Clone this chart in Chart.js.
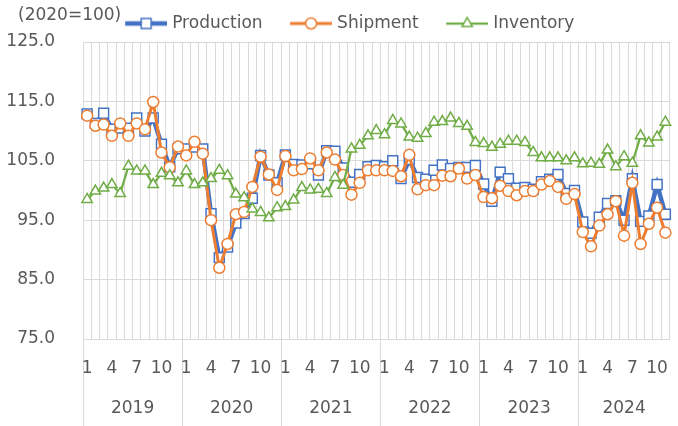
<!DOCTYPE html>
<html>
<head>
<meta charset="utf-8">
<script src="https://cdn.jsdelivr.net/npm/chart.js@4.4.1/dist/chart.umd.min.js"></script>
<style>
  html, body { margin: 0; padding: 0; background: #ffffff; }
</style>
</head>
<body>
<canvas id="chart" width="678" height="426"></canvas>
<script>
/* ==================== DATA ==================== */

const years = ['2019', '2020', '2021', '2022', '2023', '2024'];
const monthsInYear = [12, 12, 12, 12, 12, 11];
const shownMonths = [1, 4, 7, 10];

const production = [
    112.9, 111.3, 113.0, 110.3, 110.5, 110.5, 112.2, 110.0, 112.2, 107.8, 104.0, 107.0,
    107.0, 107.3, 107.0, 96.1, 88.7, 90.5, 94.5, 96.1, 98.7, 105.9, 102.6, 101.3,
    106.0, 104.4, 104.3, 104.5, 102.6, 106.7, 106.6, 103.8, 101.4, 102.7, 104.0, 104.2,
    104.0, 105.0, 102.0, 105.2, 102.2, 101.9, 103.4, 104.3, 103.7, 103.9, 103.9, 104.2,
    101.1, 98.2, 103.1, 102.0, 100.4, 100.5, 100.2, 101.5, 101.9, 102.7, 99.5, 100.0,
    94.7, 92.8, 95.5, 97.8, 98.3, 95.0, 102.0, 94.8, 95.7, 101.0, 96.0
];
const shipment = [
    112.6, 110.9, 111.1, 109.2, 111.3, 109.2, 111.3, 110.3, 114.9, 106.4, 103.9, 107.4,
    105.9, 108.2, 106.2, 95.0, 87.0, 91.0, 96.0, 96.4, 100.6, 105.7, 102.7, 100.1,
    105.8, 103.4, 103.6, 105.4, 103.4, 106.4, 105.2, 102.6, 99.3, 101.3, 103.4, 103.4,
    103.4, 103.3, 102.4, 106.0, 100.2, 100.9, 100.9, 102.5, 102.4, 103.7, 102.0, 102.6,
    98.9, 98.7, 100.8, 99.9, 99.2, 99.9, 99.9, 101.0, 101.6, 100.6, 98.6, 99.4,
    93.0, 90.6, 94.1, 96.0, 98.2, 92.4, 101.3, 91.0, 94.4, 97.1, 92.9
];
const inventory = [
    98.5, 99.9, 100.4, 101.0, 99.5, 104.1, 103.3, 103.3, 101.0, 102.9, 102.5, 101.3,
    103.3, 101.0, 101.3, 102.0, 103.4, 102.5, 99.4, 98.8, 96.9, 96.3, 95.4, 97.1,
    97.3, 98.4, 100.5, 100.1, 100.2, 99.5, 102.2, 100.9, 107.0, 107.6, 109.2, 110.1,
    109.4, 111.8, 111.2, 109.0, 108.8, 109.6, 111.5, 111.6, 112.2, 111.3, 110.8, 108.1,
    107.9, 107.3, 107.8, 108.3, 108.3, 108.1, 106.4, 105.5, 105.5, 105.5, 105.0, 105.5,
    104.5, 104.6, 104.4, 106.8, 104.0, 105.7, 104.6, 109.2, 108.0, 109.0, 111.5
];

/* ==================== CATEGORIES ==================== */

// month number for each point, and the middle index of every year
const monthLabels = [];
const yearCenters = [];
monthsInYear.forEach(n => {
    const start = monthLabels.length;
    for (let m = 1; m <= n; m++) monthLabels.push(m);
    yearCenters.push((start + monthLabels.length - 1) / 2);
});

const textColor = '#595959';
const gridColor = '#d9d9d9';
const fontFamily = "'DejaVu Sans', sans-serif";

Chart.defaults.font.family = fontFamily;
Chart.defaults.font.size = 17;
Chart.defaults.color = textColor;

// Legend sample: short line with the marker in its middle (Excel style)
function legendSample(color, lineWidth, style, radius) {
    const w = 67, h = 18;
    const c = document.createElement('canvas');
    c.width = w;
    c.height = h;
    const g = c.getContext('2d');
    const cy = h / 2, x0 = w - 42, cx = w - 21;
    g.strokeStyle = color;
    g.lineWidth = lineWidth;
    g.beginPath();
    g.moveTo(x0, cy);
    g.lineTo(w, cy);
    g.stroke();
    g.lineWidth = 1.5;
    g.fillStyle = '#ffffff';
    g.beginPath();
    if (style === 'rect') {
        const s = radius * Math.SQRT1_2;
        g.rect(cx - s, cy - s, 2 * s, 2 * s);
    } else if (style === 'circle') {
        g.arc(cx, cy, radius, 0, Math.PI * 2);
    } else {
        const dx = radius * Math.sin(Math.PI * 2 / 3);
        g.moveTo(cx, cy - radius);
        g.lineTo(cx + dx, cy + radius / 2);
        g.lineTo(cx - dx, cy + radius / 2);
        g.closePath();
    }
    g.fill();
    g.stroke();
    return c;
}

const series = [
    { label: 'Production', data: production, color: '#4472C4', width: 4.5, style: 'rect', radius: 7, order: 3 },
    { label: 'Shipment', data: shipment, color: '#ED7D31', width: 3, style: 'circle', radius: 5.5, order: 2 },
    { label: 'Inventory', data: inventory, color: '#70AD47', width: 2.25, style: 'triangle', radius: 6, order: 1 }
];
const samples = series.map(s => legendSample(s.color, s.width, s.style, s.radius));

// "(2020=100)" unit note in the top left corner
const unitNote = {
    id: 'unitNote',
    afterDraw(chart) {
        const ctx = chart.ctx;
        ctx.save();
        ctx.font = '17px ' + fontFamily;
        ctx.fillStyle = textColor;
        ctx.textBaseline = 'middle';
        ctx.fillText('(2020=100)', 18, 16);
        ctx.restore();
    }
};

/* ==================== CHART ==================== */

new Chart(document.getElementById('chart'), {
    type: 'line',
    data: {
        labels: monthLabels,
        datasets: series.map(s => ({
            label: s.label,
            data: s.data,
            borderColor: s.color,
            backgroundColor: '#ffffff',
            borderWidth: s.width,
            tension: 0,
            pointStyle: s.style,
            pointRadius: s.radius,
            pointHoverRadius: s.radius,
            pointBorderWidth: 1.5,
            pointBorderColor: s.color,
            pointBackgroundColor: '#ffffff',
            order: s.order,
            xAxisID: 'x',
            yAxisID: 'y'
        }))
    },
    options: {
        responsive: false,
        animation: false,
        layout: {
            padding: { top: 9, left: 0, right: 0, bottom: 0 }
        },
        plugins: {
            tooltip: { enabled: false },
            legend: {
                position: 'top',
                labels: {
                    usePointStyle: true,
                    pointStyleWidth: 60,
                    padding: 6,
                    color: textColor,
                    font: { size: 17 },
                    sort: (a, b) => a.datasetIndex - b.datasetIndex,
                    generateLabels: chart =>
                        Chart.defaults.plugins.legend.labels.generateLabels(chart)
                            .map(item => ({ ...item, pointStyle: samples[item.datasetIndex] }))
                }
            }
        },
        scales: {
            x: {
                type: 'category',
                offset: true,
                weight: 0,
                grid: {
                    offset: true,
                    color: gridColor,
                    lineWidth: 1,
                    drawTicks: true,
                    tickLength: 87,
                    tickColor: ctx => (ctx.index !== undefined && ctx.index % 12 === 0) ? gridColor : 'rgba(0,0,0,0)'
                },
                border: { color: gridColor },
                ticks: {
                    autoSkip: false,
                    maxRotation: 0,
                    minRotation: 0,
                    padding: -68,
                    color: textColor,
                    callback: (value, index) => shownMonths.includes(monthLabels[index]) ? String(monthLabels[index]) : ''
                },
                afterFit: scale => { scale.height = 45; }
            },
            years: {
                type: 'linear',
                position: 'bottom',
                weight: 1,
                bounds: 'data',
                min: -0.5,
                max: monthLabels.length - 0.5,
                grid: { display: false, drawTicks: false },
                border: { display: false },
                afterBuildTicks: scale => { scale.ticks = yearCenters.map(v => ({ value: v })); },
                ticks: {
                    autoSkip: false,
                    maxRotation: 0,
                    padding: 14,
                    color: textColor,
                    callback: (value, index) => years[index]
                },
                afterFit: scale => { scale.height = 42; }
            },
            y: {
                min: 75,
                max: 125,
                ticks: {
                    stepSize: 10,
                    padding: 28,
                    color: textColor,
                    callback: v => v.toFixed(1)
                },
                grid: { color: gridColor, drawTicks: false },
                border: { display: false },
                afterFit: scale => { scale.width = 83; }
            }
        }
    },
    plugins: [unitNote]
});
</script>
</body>
</html>
